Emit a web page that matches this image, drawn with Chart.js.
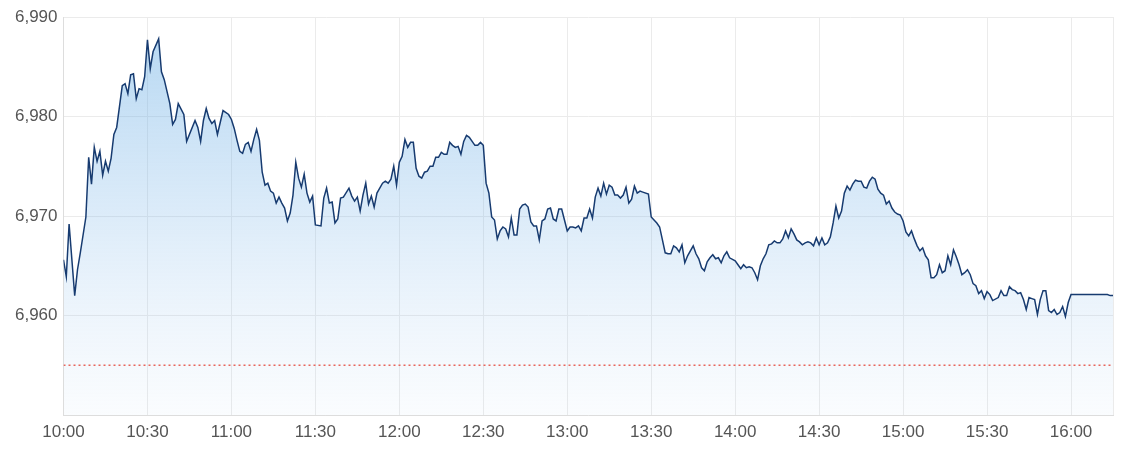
<!DOCTYPE html>
<html>
<head>
<meta charset="utf-8">
<script src="https://cdn.jsdelivr.net/npm/chart.js@4.4.1/dist/chart.umd.min.js"></script>
<style>
  html, body { margin: 0; padding: 0; background: #ffffff; }
  #wrap { position: relative; width: 1131px; height: 454px; }
</style>
</head>
<body>
<div id="wrap"><canvas id="c"></canvas></div>
<script>
const times = [
  "10:00","10:01","10:02","10:04","10:05","10:06","10:08","10:09","10:10","10:11",
  "10:12","10:13","10:14","10:15","10:16","10:17","10:18","10:19","10:21","10:22",
  "10:23","10:24","10:25","10:26","10:27","10:28","10:29","10:30","10:31","10:32",
  "10:34","10:35","10:36","10:38","10:39","10:40","10:41","10:43","10:44","10:47",
  "10:48","10:49","10:50","10:51","10:52","10:53","10:54","10:55","10:56","10:57",
  "10:59","11:00","11:01","11:02","11:03","11:04","11:05","11:06","11:07","11:08",
  "11:09","11:10","11:11","11:12","11:13","11:14","11:15","11:16","11:17","11:18",
  "11:19","11:20","11:21","11:22","11:23","11:24","11:25","11:26","11:27","11:28",
  "11:29","11:30","11:32","11:33","11:34","11:35","11:36","11:37","11:38","11:39",
  "11:40","11:42","11:43","11:44","11:45","11:46","11:47","11:48","11:49","11:50",
  "11:51","11:52","11:54","11:55","11:56","11:57","11:58","11:59","12:00","12:01",
  "12:02","12:03","12:04","12:05","12:06","12:07","12:08","12:09","12:10","12:11",
  "12:12","12:13","12:14","12:15","12:16","12:17","12:18","12:19","12:20","12:21",
  "12:22","12:23","12:24","12:25","12:27","12:28","12:29","12:30","12:31","12:32",
  "12:33","12:34","12:35","12:36","12:37","12:38","12:39","12:40","12:41","12:42",
  "12:43","12:44","12:45","12:46","12:47","12:48","12:49","12:50","12:51","12:52",
  "12:53","12:54","12:55","12:56","12:57","12:58","12:59","13:00","13:01","13:02",
  "13:03","13:04","13:05","13:06","13:07","13:08","13:09","13:10","13:11","13:12",
  "13:13","13:14","13:15","13:16","13:17","13:18","13:19","13:20","13:21","13:22",
  "13:23","13:24","13:25","13:26","13:27","13:29","13:30","13:31","13:32","13:33",
  "13:34","13:35","13:36","13:37","13:38","13:39","13:40","13:41","13:42","13:43",
  "13:45","13:46","13:47","13:48","13:49","13:50","13:51","13:52","13:53","13:54",
  "13:55","13:56","13:57","13:58","14:00","14:01","14:02","14:03","14:04","14:05",
  "14:06","14:07","14:08","14:09","14:10","14:11","14:12","14:13","14:14","14:15",
  "14:16","14:17","14:18","14:19","14:20","14:21","14:22","14:23","14:24","14:25",
  "14:26","14:27","14:28","14:29","14:30","14:31","14:32","14:33","14:34","14:35",
  "14:36","14:37","14:38","14:39","14:40","14:41","14:42","14:43","14:44","14:45",
  "14:46","14:47","14:48","14:49","14:50","14:51","14:52","14:53","14:54","14:55",
  "14:56","14:57","14:58","14:59","15:00","15:01","15:02","15:03","15:04","15:05",
  "15:06","15:07","15:08","15:09","15:10","15:11","15:12","15:13","15:14","15:15",
  "15:16","15:17","15:18","15:19","15:20","15:21","15:22","15:23","15:24","15:25",
  "15:26","15:27","15:28","15:29","15:30","15:31","15:32","15:34","15:35","15:36",
  "15:37","15:38","15:39","15:40","15:41","15:42","15:43","15:44","15:45","15:46",
  "15:47","15:48","15:49","15:50","15:51","15:52","15:53","15:54","15:55","15:56",
  "15:57","15:58","15:59","16:00","16:13","16:14","16:15"
];
const prices = [
  6965.6,6963.9,6969.2,6962.0,6964.6,6966.3,6969.9,6975.9,6973.2,6976.9,
  6975.5,6976.5,6974.1,6975.5,6974.5,6975.8,6978.2,6978.9,6983.1,6983.3,
  6982.3,6984.2,6984.3,6981.8,6982.8,6982.7,6984.0,6987.7,6984.8,6986.5,
  6987.8,6984.5,6983.7,6981.3,6979.2,6979.7,6981.3,6980.2,6977.5,6979.6,
  6978.9,6977.5,6979.6,6980.8,6979.8,6979.3,6979.6,6978.2,6979.4,6980.6,
  6980.2,6979.7,6978.8,6977.6,6976.5,6976.3,6977.2,6977.4,6976.5,6977.7,
  6978.7,6977.6,6974.4,6973.1,6973.3,6972.5,6972.3,6971.3,6971.9,6971.3,
  6970.8,6969.5,6970.3,6972.1,6975.4,6973.8,6972.9,6974.2,6972.3,6971.4,
  6972.0,6969.1,6969.0,6971.8,6972.8,6971.3,6971.4,6969.3,6969.7,6971.8,
  6971.9,6972.8,6972.0,6971.5,6971.9,6970.5,6972.1,6973.3,6971.2,6972.0,
  6970.9,6972.3,6973.3,6973.5,6973.3,6973.7,6975.0,6973.1,6975.4,6976.0,
  6977.7,6976.9,6977.4,6977.4,6974.8,6974.0,6973.8,6974.4,6974.5,6975.0,
  6975.0,6975.9,6975.9,6976.4,6976.2,6976.2,6977.4,6977.1,6976.9,6977.0,
  6976.2,6977.5,6978.1,6977.9,6977.1,6977.1,6977.4,6977.1,6973.3,6972.3,
  6969.9,6969.6,6967.7,6968.5,6968.9,6968.7,6967.9,6969.8,6968.1,6968.1,
  6970.7,6971.1,6971.2,6970.9,6969.4,6969.0,6969.0,6967.6,6969.5,6969.7,
  6970.7,6970.8,6969.7,6969.5,6970.7,6970.7,6969.6,6968.5,6968.9,6968.9,
  6968.8,6969.0,6968.5,6969.8,6969.8,6970.7,6969.8,6971.9,6972.8,6972.0,
  6973.3,6972.2,6973.1,6972.9,6972.1,6972.1,6971.8,6972.1,6972.9,6971.3,
  6971.7,6973.0,6972.3,6972.5,6972.4,6972.2,6969.9,6969.6,6969.3,6968.9,
  6967.6,6966.3,6966.2,6966.2,6967.0,6966.8,6966.4,6967.1,6965.3,6966.0,
  6967.0,6966.2,6965.7,6964.8,6964.5,6965.4,6965.8,6966.1,6965.7,6965.8,
  6965.3,6966.0,6966.4,6965.8,6965.5,6965.1,6964.7,6965.1,6964.8,6964.9,
  6964.8,6964.3,6963.6,6965.0,6965.7,6966.2,6967.1,6967.2,6967.5,6967.3,
  6967.3,6967.7,6968.5,6967.8,6968.7,6968.2,6967.6,6967.4,6967.1,6967.3,
  6967.4,6967.3,6967.0,6967.8,6967.1,6967.8,6967.1,6967.3,6967.9,6969.3,
  6971.0,6969.8,6970.5,6972.3,6973.0,6972.6,6973.2,6973.6,6973.5,6973.5,
  6972.9,6972.8,6973.5,6973.9,6973.7,6972.7,6972.3,6972.1,6971.2,6971.5,
  6970.8,6970.4,6970.2,6970.1,6969.5,6968.4,6968.0,6968.5,6967.7,6967.0,
  6966.5,6966.8,6966.0,6965.6,6963.8,6963.8,6964.1,6965.1,6964.3,6964.5,
  6966.0,6965.1,6966.6,6965.9,6965.1,6964.1,6964.3,6964.6,6964.1,6963.2,
  6963.0,6962.2,6962.5,6961.7,6962.4,6962.1,6961.5,6961.8,6962.5,6962.0,
  6962.0,6962.9,6962.6,6962.5,6962.2,6962.3,6961.6,6960.6,6961.8,6961.7,
  6961.6,6960.1,6961.6,6962.5,6962.5,6960.5,6960.3,6960.6,6960.1,6960.3,
  6960.9,6959.9,6961.3,6962.1,6962.1,6962.0,6962.0
];
const prevClose = 6955;
const xTickLabels = ["10:00","10:30","11:00","11:30","12:00","12:30","13:00","13:30","14:00","14:30","15:00","15:30","16:00"];
const sessionStart = "10:00";
const sessionEnd = "16:15";
const yMin = 6950, yMax = 6990, yStep = 10;

function toMin(t) {
  const p = t.split(':').map(Number);
  return p[0] * 60 + p[1];
}
const t0 = toMin(sessionStart);
const tEnd = toMin(sessionEnd) - t0;

const FONT = { family: "'Liberation Sans', Arial, Helvetica, sans-serif", size: 17 };
const TICK_COLOR = '#555555';
const GRID_COLOR = '#ebebeb';

const priceData = times.map((t, i) => ({ x: toMin(t) - t0, y: prices[i] }));
const closeData = [{ x: 0, y: prevClose }, { x: tEnd, y: prevClose }];

function fillGradient(ctx) {
  const chart = ctx.chart;
  const area = chart.chartArea;
  if (!area) return 'rgba(100,170,225,0.3)';
  const g = chart.ctx.createLinearGradient(0, area.top, 0, area.bottom);
  g.addColorStop(0, 'rgba(95,168,226,0.47)');
  g.addColorStop(0.5, 'rgba(120,180,232,0.26)');
  g.addColorStop(1, 'rgba(170,205,240,0.06)');
  return g;
}

new Chart(document.getElementById('c'), {
  type: 'line',
  data: {
    datasets: [
      {
        data: closeData,
        borderColor: '#e8665c',
        borderWidth: 1.6,
        borderDash: [2, 3],
        pointRadius: 0,
        fill: false,
        order: 0
      },
      {
        data: priceData,
        borderColor: '#173b70',
        borderWidth: 1.5,
        pointRadius: 0,
        tension: 0,
        fill: 'start',
        backgroundColor: fillGradient,
        order: 1
      }
    ]
  },
  options: {
    responsive: true,
    maintainAspectRatio: false,
    animation: false,
    events: [],
    layout: { padding: { top: 17, right: 18, bottom: 0, left: 0 } },
    plugins: { legend: { display: false }, tooltip: { enabled: false } },
    scales: {
      x: {
        type: 'linear',
        min: 0,
        max: tEnd,
        afterFit: (s) => { s.height = 39; },
        afterBuildTicks: (s) => {
          s.ticks = xTickLabels.map((l) => ({ value: toMin(l) - t0 })).concat([{ value: tEnd }]);
        },
        grid: { color: GRID_COLOR, drawTicks: false, lineWidth: 1 },
        border: { color: '#dddddd' },
        ticks: {
          autoSkip: false,
          maxRotation: 0,
          padding: 7,
          color: TICK_COLOR,
          font: FONT,
          callback: (v) => {
            const h = Math.floor((v + t0) / 60), m = (v + t0) % 60;
            const s = h + ':' + String(m).padStart(2, '0');
            return xTickLabels.includes(s) ? s : '';
          }
        }
      },
      y: {
        min: yMin,
        max: yMax,
        afterFit: (s) => { s.width = 63.5; },
        grid: { color: GRID_COLOR, drawTicks: false, lineWidth: 1 },
        border: { color: '#dddddd' },
        ticks: {
          stepSize: yStep,
          padding: 6,
          color: TICK_COLOR,
          font: FONT,
          callback: (v) => v === yMin ? '' : v.toLocaleString('en-US')
        }
      }
    }
  }
});
</script>
</body>
</html>
